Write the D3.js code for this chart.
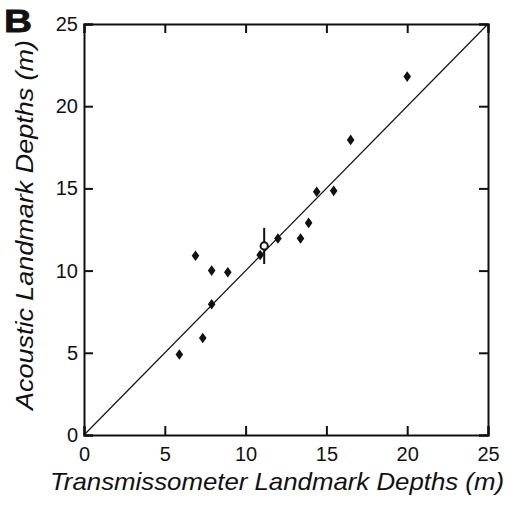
<!DOCTYPE html>
<html>
<head>
<meta charset="utf-8">
<script src="https://cdn.jsdelivr.net/npm/d3@7"></script>
<style>
  html, body { margin: 0; padding: 0; background: #fff; }
  svg { display: block; }
  text { font-family: "Liberation Sans", Arial, Helvetica, sans-serif; fill: #111; }
</style>
</head>
<body>
<script>
// Landmark depths: transmissometer (x) vs acoustic (y), metres
const transDepths = [5.9, 6.9, 7.35, 7.9, 7.9, 8.9, 10.9, 12.0, 13.4, 13.9, 14.4, 15.45, 16.5, 20.0];
const acousticDepths = [4.9, 10.9, 5.9, 7.95, 10.0, 9.9, 10.95, 11.95, 11.95, 12.9, 14.8, 14.85, 17.95, 21.8];

// Mean landmark with its spread (open circle + vertical bar)
const meanX = [11.15];
const meanY = [11.5];
const meanErr = [1.1];

const tickValues = [0, 5, 10, 15, 20, 25];
const xTitle = "Transmissometer Landmark Depths (m)";
const yTitle = "Acoustic Landmark Depths (m)";
const panelLabel = "B";

const W = 516, H = 506;
const margin = { top: 24, right: 28, bottom: 71, left: 84 };

const svg = d3.select("body").append("svg").attr("width", W).attr("height", H);

const x = d3.scaleLinear().domain([0, 25]).range([margin.left, W - margin.right]);
const y = d3.scaleLinear().domain([0, 25]).range([H - margin.bottom, margin.top]);

const tickLen = 9;

// Axes with inward ticks on all four sides
svg.append("g").attr("transform", `translate(0,${y(0)})`)
  .call(d3.axisBottom(x).tickValues(tickValues).tickSize(-tickLen).tickPadding(12))
  .call(g => g.selectAll("text").attr("font-size", 20));
svg.append("g").attr("transform", `translate(${x(0)},0)`)
  .call(d3.axisLeft(y).tickValues(tickValues).tickSize(-tickLen).tickPadding(6))
  .call(g => g.selectAll("text").attr("font-size", 20));
svg.append("g").attr("transform", `translate(0,${y(25)})`)
  .call(d3.axisTop(x).tickValues(tickValues).tickSize(-tickLen).tickFormat(""));
svg.append("g").attr("transform", `translate(${x(25)},0)`)
  .call(d3.axisRight(y).tickValues(tickValues).tickSize(-tickLen).tickFormat(""));

svg.selectAll(".domain").attr("stroke", "#111").attr("stroke-width", 2);
svg.selectAll(".tick line").attr("stroke", "#111").attr("stroke-width", 2);

// 1:1 reference line
svg.append("line")
  .attr("x1", x(0)).attr("y1", y(0))
  .attr("x2", x(25)).attr("y2", y(25))
  .attr("stroke", "#111").attr("stroke-width", 1.2);

// Diamonds
const diamond = (cx, cy) => {
  const w = 3.8, h = 5.3;
  return `M${cx},${cy - h}L${cx + w},${cy}L${cx},${cy + h}L${cx - w},${cy}Z`;
};
svg.append("g").selectAll("path")
  .data(transDepths.map((d, i) => [d, acousticDepths[i]]))
  .join("path")
  .attr("d", d => diamond(x(d[0]), y(d[1])))
  .attr("fill", "#111");

// Mean point with error bar
meanX.forEach((mx, i) => {
  svg.append("line")
    .attr("x1", x(mx)).attr("x2", x(mx))
    .attr("y1", y(meanY[i] + meanErr[i])).attr("y2", y(meanY[i] - meanErr[i]))
    .attr("stroke", "#111").attr("stroke-width", 2);
  svg.append("circle")
    .attr("cx", x(mx)).attr("cy", y(meanY[i]))
    .attr("r", 3.6)
    .attr("fill", "#fff").attr("stroke", "#111").attr("stroke-width", 2);
});

// Axis titles
svg.append("text")
  .attr("x", 50).attr("y", 490)
  .attr("font-size", 24).attr("font-style", "italic")
  .attr("textLength", 454).attr("lengthAdjust", "spacingAndGlyphs")
  .text(xTitle);
svg.append("text")
  .attr("transform", "translate(33,410) rotate(-90)")
  .attr("font-size", 24).attr("font-style", "italic")
  .attr("textLength", 370).attr("lengthAdjust", "spacingAndGlyphs")
  .text(yTitle);

// Panel label
svg.append("text")
  .attr("x", 4).attr("y", 32)
  .attr("font-size", 32).attr("font-weight", "bold")
  .attr("textLength", 28).attr("lengthAdjust", "spacingAndGlyphs")
  .attr("stroke", "#111").attr("stroke-width", 0.8)
  .text(panelLabel);
</script>
</body>
</html>
